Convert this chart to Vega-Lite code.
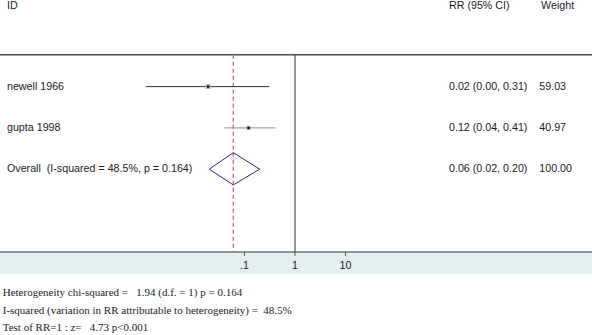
{
  "$schema": "https://vega.github.io/schema/vega-lite/v6.json",
  "width": 592,
  "height": 335,
  "autosize": "none",
  "padding": 0,
  "background": "white",
  "config": {
    "view": {"stroke": null},
    "text": {"font": "Liberation Sans", "fontSize": 10.7, "color": "#1a1a1a", "baseline": "middle", "align": "left"}
  },
  "datasets": {
    "studies": [
      {"study": "newell 1966", "row": 1, "rr": 0.019, "lo": 0.0011, "hi": 0.31, "weight": 59.03},
      {"study": "gupta 1998", "row": 2, "rr": 0.12, "lo": 0.04, "hi": 0.41, "weight": 40.97}
    ],
    "overall": [
      {"row": 3, "rr": 0.06, "lo": 0.02, "hi": 0.2, "top": 0.228, "axisrow": 5.005}
    ],
    "diamond": [
      {"k": 1, "x": 0.02, "row": 3},
      {"k": 2, "x": 0.06, "row": 2.6},
      {"k": 3, "x": 0.2, "row": 3},
      {"k": 4, "x": 0.06, "row": 3.38},
      {"k": 5, "x": 0.02, "row": 3}
    ],
    "band": [{"from": 5.005, "to": 5.538}],
    "ticks": [
      {"value": 0.1, "label": ".1", "from": 5.005, "to": 5.1, "labelrow": 5.35},
      {"value": 1, "label": "1", "from": 5.005, "to": 5.1, "labelrow": 5.35},
      {"value": 10, "label": "10", "from": 5.005, "to": 5.1, "labelrow": 5.35}
    ],
    "table": [
      {"row": -0.955, "id": "ID", "ci": "RR (95% CI)", "wt": "Weight", "wx": 91.4},
      {"row": 1, "id": "newell 1966", "ci": "0.02 (0.00, 0.31)", "wt": "59.03", "wx": 91.1},
      {"row": 2, "id": "gupta 1998", "ci": "0.12 (0.04, 0.41)", "wt": "40.97", "wx": 91.1},
      {"row": 3, "id": "Overall\u00a0\u00a0(I-squared = 48.5%, p = 0.164)", "ci": "0.06 (0.02, 0.20)", "wt": "100.00", "wx": 91.1}
    ],
    "notes": [
      {"row": 5.998, "text": "Heterogeneity chi-squared =\u00a0\u00a0\u00a01.94 (d.f. = 1) p = 0.164"},
      {"row": 6.434, "text": "I-squared (variation in RR attributable to heterogeneity) =\u00a0\u00a048.5%"},
      {"row": 6.845, "text": "Test of RR=1 : z=\u00a0\u00a0\u00a04.73 p<0.001"}
    ]
  },
  "resolve": {"scale": {"x": "independent"}},
  "layer": [
    {
      "layer": [
        {
          "data": {"name": "band"},
          "mark": {"type": "rect", "color": "#e2eef0"},
          "encoding": {
            "y": {"field": "from", "type": "quantitative", "scale": {"domain": [-1.097, 7.015], "reverse": true, "nice": false, "zero": false}, "axis": null},
            "y2": {"field": "to"}
          }
        },
        {
          "data": {"name": "overall"},
          "mark": {"type": "rule", "color": "#4a4a4a", "strokeWidth": 1.5},
          "encoding": {
            "y": {"field": "top", "type": "quantitative"}
          }
        },
        {
          "data": {"name": "overall"},
          "mark": {"type": "rule", "color": "#707070", "strokeWidth": 1.6},
          "encoding": {
            "y": {"field": "axisrow", "type": "quantitative"}
          }
        },
        {
          "data": {"name": "ticks"},
          "mark": {"type": "rule", "color": "#555555", "strokeWidth": 1},
          "encoding": {
            "x": {"field": "value", "type": "quantitative", "scale": {"type": "log", "domain": [1.44e-6, 760000], "nice": false}, "axis": null},
            "y": {"field": "from", "type": "quantitative"},
            "y2": {"field": "to"}
          }
        },
        {
          "data": {"name": "ticks"},
          "mark": {"type": "text", "align": "center"},
          "encoding": {
            "x": {"field": "value", "type": "quantitative"},
            "y": {"field": "labelrow", "type": "quantitative"},
            "text": {"field": "label"}
          }
        },
        {
          "data": {"name": "overall"},
          "mark": {"type": "rule", "color": "#333333", "strokeWidth": 1},
          "encoding": {
            "x": {"datum": 1, "type": "quantitative"},
            "y": {"field": "top", "type": "quantitative"},
            "y2": {"field": "axisrow"}
          }
        },
        {
          "data": {"name": "overall"},
          "mark": {"type": "rule", "color": "#b8707f", "strokeWidth": 1.3, "strokeDash": [4, 3]},
          "encoding": {
            "x": {"field": "rr", "type": "quantitative"},
            "y": {"field": "top", "type": "quantitative"},
            "y2": {"field": "axisrow"}
          }
        },
        {
          "data": {"name": "studies"},
          "mark": {"type": "rule", "strokeWidth": 1},
          "encoding": {
            "x": {"field": "lo", "type": "quantitative"},
            "x2": {"field": "hi"},
            "y": {"field": "row", "type": "quantitative"},
            "color": {"field": "study", "type": "nominal", "scale": {"domain": ["newell 1966", "gupta 1998"], "range": ["#333333", "#8a8a8a"]}, "legend": null}
          }
        },
        {
          "data": {"name": "studies"},
          "mark": {"type": "square", "color": "#b0b0b0", "opacity": 1},
          "encoding": {
            "x": {"field": "rr", "type": "quantitative"},
            "y": {"field": "row", "type": "quantitative"},
            "size": {"field": "weight", "type": "quantitative", "scale": {"domain": [0, 59.03], "range": [0, 24], "zero": true}, "legend": null}
          }
        },
        {
          "data": {"name": "studies"},
          "mark": {"type": "square", "color": "#000000", "size": 5, "opacity": 1},
          "encoding": {
            "x": {"field": "rr", "type": "quantitative"},
            "y": {"field": "row", "type": "quantitative"}
          }
        },
        {
          "data": {"name": "diamond"},
          "mark": {"type": "line", "color": "#2b2b6e", "strokeWidth": 1},
          "encoding": {
            "x": {"field": "x", "type": "quantitative"},
            "y": {"field": "row", "type": "quantitative"},
            "order": {"field": "k", "type": "quantitative"}
          }
        }
      ]
    },
    {
      "layer": [
        {
          "data": {"name": "table"},
          "mark": {"type": "text"},
          "encoding": {
            "x": {"datum": 1.18, "type": "quantitative", "scale": {"domain": [0, 100], "nice": false, "zero": false}, "axis": null},
            "y": {"field": "row", "type": "quantitative"},
            "text": {"field": "id"}
          }
        },
        {
          "data": {"name": "table"},
          "mark": {"type": "text"},
          "encoding": {
            "x": {"datum": 75.84, "type": "quantitative"},
            "y": {"field": "row", "type": "quantitative"},
            "text": {"field": "ci"}
          }
        },
        {
          "data": {"name": "table"},
          "mark": {"type": "text"},
          "encoding": {
            "x": {"field": "wx", "type": "quantitative"},
            "y": {"field": "row", "type": "quantitative"},
            "text": {"field": "wt"}
          }
        },
        {
          "data": {"name": "notes"},
          "mark": {"type": "text", "font": "Liberation Serif", "fontSize": 11},
          "encoding": {
            "x": {"datum": 0.46, "type": "quantitative"},
            "y": {"field": "row", "type": "quantitative"},
            "text": {"field": "text"}
          }
        }
      ]
    }
  ]
}
